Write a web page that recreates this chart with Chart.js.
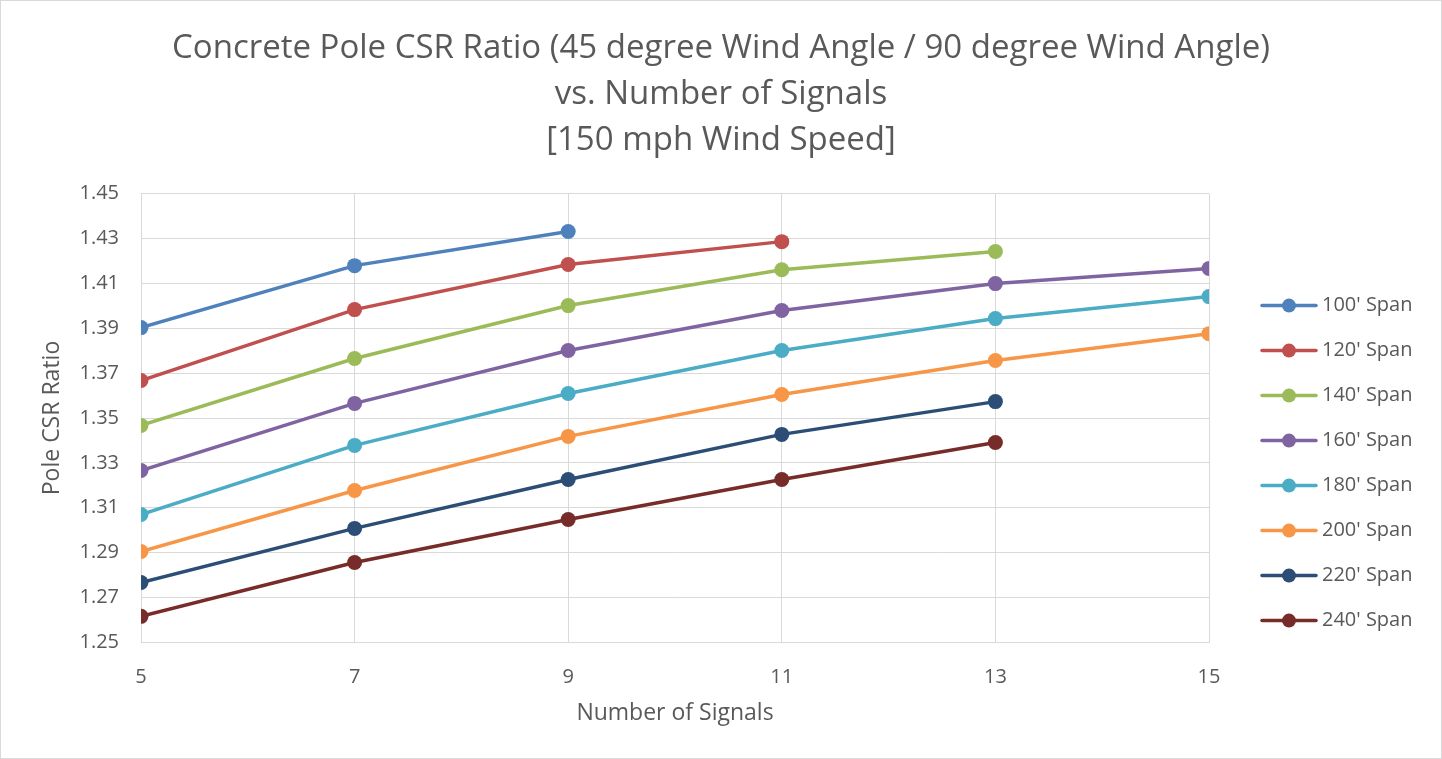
<!DOCTYPE html>
<html>
  <head>
    <script src="https://cdn.jsdelivr.net/npm/chart.js@4.4.1/dist/chart.umd.min.js"></script>
    <style>
      body { margin: 0; background: #fff; }
      #wrap { width: 1440px; height: 757px; border: 1px solid #d9d9d9; }
    </style>
  </head>

  <body>
    <div id="wrap">
      <canvas id="canvas" width="1440" height="757"></canvas>
    </div>
    <script>
      const signals = [5, 7, 9, 11, 13, 15];
      const spans = ["100' Span", "120' Span", "140' Span", "160' Span", "180' Span", "200' Span", "220' Span", "240' Span"];
      const span100 = [1.3903, 1.4179, 1.4331];
      const span120 = [1.3667, 1.3983, 1.4184, 1.4286];
      const span140 = [1.3467, 1.3765, 1.4001, 1.4161, 1.4242];
      const span160 = [1.3266, 1.3565, 1.3801, 1.3979, 1.4099, 1.4166];
      const span180 = [1.3070, 1.3378, 1.3609, 1.3801, 1.3943, 1.4041];
      const span200 = [1.2905, 1.3177, 1.3418, 1.3605, 1.3756, 1.3876];
      const span220 = [1.2767, 1.3008, 1.3226, 1.3427, 1.3573];
      const span240 = [1.2616, 1.2856, 1.3048, 1.3226, 1.3391];
      const colors = ['#4F81BD', '#C0504D', '#9BBB59', '#8064A2', '#4BACC6', '#F79646', '#2C4D75', '#772C2A'];
      const series = [span100, span120, span140, span160, span180, span200, span220, span240];

      const font = "'Open Sans', sans-serif";
      const grey = '#595959';

      // legend on the right: short line with a dot, then the label
      const sideLegend = {
        id: 'sideLegend',
        afterDraw(chart) {
          const ctx = chart.ctx;
          const x0 = chart.chartArea.right + 53;
          const y0 = chart.chartArea.top + 112;
          ctx.save();
          ctx.font = '20px ' + font;
          ctx.textBaseline = 'middle';
          chart.data.datasets.forEach((ds, i) => {
            const y = y0 + i * 45;
            ctx.strokeStyle = ds.borderColor;
            ctx.lineWidth = 3.5;
            ctx.lineCap = 'round';
            ctx.beginPath();
            ctx.moveTo(x0, y);
            ctx.lineTo(x0 + 54, y);
            ctx.stroke();
            ctx.fillStyle = ds.borderColor;
            ctx.beginPath();
            ctx.arc(x0 + 27, y, 7, 0, Math.PI * 2);
            ctx.fill();
            ctx.fillStyle = grey;
            ctx.fillText(ds.label, x0 + 60, y);
          });
          ctx.restore();
        },
      };

      new Chart(document.getElementById('canvas').getContext('2d'), {
        type: 'line',
        data: {
          datasets: series.map((vals, i) => ({
            label: spans[i],
            data: vals.map((v, j) => ({ x: signals[j], y: v })),
            borderColor: colors[i],
            backgroundColor: colors[i],
            pointBorderWidth: 0,
            pointRadius: 7.5,
            pointHoverRadius: 7.5,
            borderWidth: 3.5,
            tension: 0,
          })),
        },
        plugins: [sideLegend],
        options: {
          responsive: false,
          animation: false,
          layout: { padding: { bottom: 27 } },
          plugins: {
            title: {
              display: true,
              text: [
                'Concrete Pole CSR Ratio (45 degree Wind Angle / 90 degree Wind Angle)',
                'vs. Number of Signals',
                '[150 mph Wind Speed]',
              ],
              color: grey,
              font: { family: font, size: 33, weight: 'normal', lineHeight: 1.39 },
              padding: { top: 25, bottom: 30 },
            },
            legend: { display: false },
            tooltip: { enabled: false },
          },
          scales: {
            x: {
              type: 'linear',
              min: 5,
              max: 15,
              ticks: { stepSize: 2, color: grey, font: { family: font, size: 20 }, padding: 23 },
              grid: { color: '#d9d9d9', drawTicks: false },
              border: { color: '#d9d9d9' },
              title: { display: true, text: 'Number of Signals', color: grey, font: { family: font, size: 23 }, padding: { top: -13 } },
            },
            y: {
              min: 1.25,
              max: 1.45,
              ticks: {
                stepSize: 0.02,
                color: grey,
                font: { family: font, size: 20 },
                padding: 22,
                callback: (v) => v.toFixed(2),
              },
              grid: { color: '#d9d9d9', drawTicks: false },
              border: { color: '#d9d9d9' },
              title: { display: true, text: 'Pole CSR Ratio', color: grey, font: { family: font, size: 23 }, padding: { top: 38, bottom: 0 } },
              afterFit: (s) => { s.width = 140; },
            },
            // empty axis that only keeps room for the legend
            room: {
              type: 'linear',
              position: 'right',
              display: true,
              ticks: { display: false },
              grid: { display: false, drawTicks: false },
              border: { display: false },
              afterFit: (s) => { s.width = 232; },
            },
          },
        },
      });
    </script>
  </body>
</html>
